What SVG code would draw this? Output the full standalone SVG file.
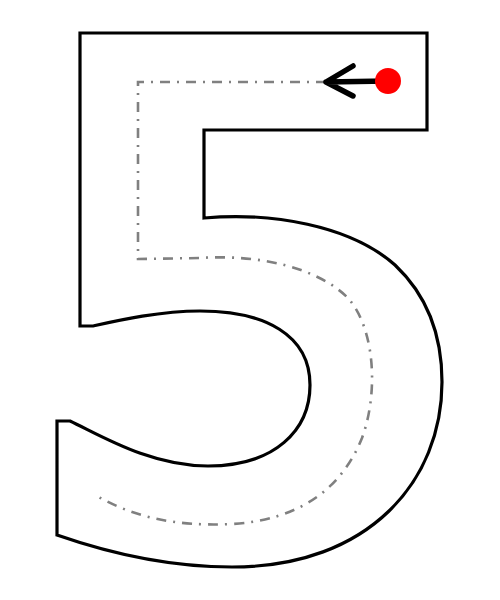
<svg xmlns="http://www.w3.org/2000/svg" width="500" height="600" viewBox="0 0 500 600">
<style>
.outline{fill:#fff;stroke:#000;stroke-width:3.2;stroke-linejoin:miter}
.guide{fill:none;stroke:#808080;stroke-width:2.6;stroke-dasharray:10,7,2,7}
.arrow{fill:none;stroke:#000;stroke-width:5.5;stroke-linecap:round;stroke-linejoin:round}
</style>
<rect width="500" height="600" fill="#fff"/>
<g id="digit5">
<path class="outline" d="M80,33 L427,33 L427,130 L204,130 L204,218 C270,212 350,225 395,265 C430,298 442,340 442,382 C442,480 370,567 232,567 C160,567 100,550 57,535 L57,421 L70,421 C100,435 150,466 208,466 C275,466 310,430 310,385 C310,335 265,311 200,311 C160,311 120,320 93,326 L80,326 Z"/>
</g>
<g id="connectors">
<path class="guide" d="M326,82 L138,82 L138,259 L200,258 C260,254 318,268 348,298 C376,330 378,395 362,438 C342,488 300,520 232,524 C170,527 130,515 95,495"/>
<path class="arrow" d="M388,81 L326,82 M353,66 L326,82 L353,96"/>
</g>
<g id="start">
<circle cx="388" cy="81" r="13" fill="#ff0000"/>
</g>
</svg>
